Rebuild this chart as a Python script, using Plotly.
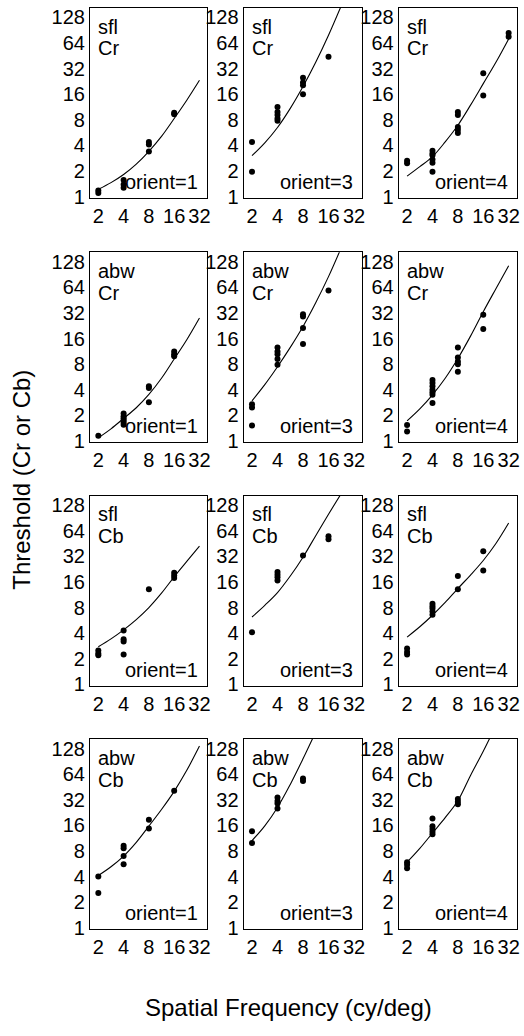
import plotly.graph_objects as go
import math

# ---------------- data ----------------
freq_ticks = [2, 4, 8, 16, 32]
thr_ticks = [1, 2, 4, 8, 16, 32, 64, 128]
curve_freq = [2, 2.83, 4, 5.66, 8, 11.3, 16, 22.6, 32]

# row 1: sfl Cr
sfl_Cr_1_f = [2, 2, 4, 4, 4, 8, 8, 8, 16, 16]
sfl_Cr_1_t = [1.1, 1.18, 1.27, 1.39, 1.57, 4.4, 4.1, 3.4, 9.7, 9.3]
sfl_Cr_1_curve = [1.22, 1.46, 1.82, 2.41, 3.41, 5.1, 8.28, 13.6, 23.3]

sfl_Cr_3_f = [2, 2, 4, 4, 4, 4, 4, 8, 8, 8, 8, 16]
sfl_Cr_3_t = [4.4, 1.96, 11.3, 9.9, 9.1, 8.3, 7.8, 25, 22, 20.4, 16, 44]
sfl_Cr_3_curve_f = [2, 2.83, 4, 5.66, 8, 11.3, 16, 22.6]
sfl_Cr_3_curve = [3.03, 4.29, 6.5, 10.9, 19.7, 38, 79, 175]

sfl_Cr_4_f = [2, 2, 4, 4, 4, 4, 4, 4, 8, 8, 8, 8, 8, 16, 16, 32, 32]
sfl_Cr_4_t = [2.64, 2.46, 3.46, 3.22, 3.07, 2.74, 2.5, 1.96, 9.9, 9.1, 6.6, 6.1, 5.6, 28.3, 15.5, 84, 76]
sfl_Cr_4_curve = [1.74, 2.25, 2.95, 4.4, 6.9, 11.9, 21.3, 38, 71.5]

# row 2: abw Cr
abw_Cr_1_f = [2, 4, 4, 4, 4, 4, 4, 8, 8, 8, 16, 16, 16]
abw_Cr_1_t = [1.15, 2.1, 1.95, 1.85, 1.75, 1.65, 1.55, 4.4, 4.2, 2.85, 11.3, 10.5, 9.9]
abw_Cr_1_curve = [1.09, 1.39, 1.84, 2.46, 3.53, 5.46, 9.19, 15.5, 27.9]

abw_Cr_3_f = [2, 2, 2, 4, 4, 4, 4, 4, 8, 8, 8, 8, 16]
abw_Cr_3_t = [2.7, 2.48, 1.52, 12.6, 11.3, 10.5, 9.2, 7.9, 31, 29, 21.3, 13.8, 59]
abw_Cr_3_curve_f = [2, 2.83, 4, 5.66, 8, 11.3, 16, 22.6]
abw_Cr_3_curve = [2.97, 4.6, 7.46, 12.6, 22.2, 42.2, 85.6, 187]

abw_Cr_4_f = [2, 2, 4, 4, 4, 4, 4, 4, 4, 8, 8, 8, 8, 8, 16, 16]
abw_Cr_4_t = [1.54, 1.29, 5.2, 4.8, 4.4, 4.0, 3.75, 3.5, 2.8, 12.6, 9.6, 8.6, 8.0, 6.5, 30.6, 20.7]
abw_Cr_4_curve = [1.72, 2.38, 3.48, 5.46, 9.32, 17.1, 33.1, 61.8, 115]

# row 3: sfl Cb
sfl_Cb_1_f = [2, 2, 2, 4, 4, 4, 4, 8, 16, 16, 16]
sfl_Cb_1_t = [2.5, 2.3, 2.2, 4.3, 3.4, 3.2, 2.25, 13.1, 20.5, 19.1, 17.8]
sfl_Cb_1_curve = [2.77, 3.43, 4.38, 5.78, 8.0, 11.8, 18.4, 27.9, 42.2]

sfl_Cb_3_f = [2, 4, 4, 4, 4, 8, 16, 16]
sfl_Cb_3_t = [4.1, 20.9, 19.4, 18.2, 16.7, 32.7, 55, 51]
sfl_Cb_3_curve_f = [2, 2.83, 4, 5.66, 8, 11.3, 16, 22.6]
sfl_Cb_3_curve = [6.2, 8.5, 12, 18.8, 31.3, 56, 100, 175]

sfl_Cb_4_f = [2, 2, 2, 4, 4, 4, 4, 4, 8, 8, 16, 16]
sfl_Cb_4_t = [2.64, 2.41, 2.24, 8.9, 8.3, 7.8, 7.2, 6.6, 18.8, 13.1, 36.8, 21.8]
sfl_Cb_4_curve = [3.6, 4.76, 6.5, 9.19, 13.4, 19.3, 28.6, 45.3, 78.8]

# row 4: abw Cb
abw_Cb_1_f = [2, 2, 4, 4, 4, 4, 8, 8, 16]
abw_Cb_1_t = [4.0, 2.57, 9.2, 8.6, 7.0, 5.6, 18.6, 14.7, 40.8]
abw_Cb_1_curve = [4.11, 5.21, 6.96, 10.1, 15.7, 24.6, 40.2, 71, 137]

abw_Cb_3_f = [2, 2, 4, 4, 4, 4, 8, 8]
abw_Cb_3_t = [13.6, 9.9, 34, 31, 29, 25.3, 57, 53]
abw_Cb_3_curve_f = [2, 2.83, 4, 5.66, 8, 11.3]
abw_Cb_3_curve = [10.6, 15.8, 26, 48.5, 97, 201]

abw_Cb_4_f = [2, 2, 2, 4, 4, 4, 4, 4, 8, 8, 8]
abw_Cb_4_t = [5.9, 5.5, 5.0, 19.3, 15.6, 14.5, 13.5, 12.6, 32.6, 30.3, 28.4]
abw_Cb_4_curve_f = [2, 2.83, 4, 5.66, 8, 11.3, 16, 22.6]
abw_Cb_4_curve = [5.9, 8.57, 13, 19.7, 31.1, 61.8, 119, 239]

subjects = ["sfl", "abw", "sfl", "abw"]
channels = ["Cr", "Cr", "Cb", "Cb"]
orients = ["orient=1", "orient=3", "orient=4"]

panels = [
    [(sfl_Cr_1_f, sfl_Cr_1_t, curve_freq, sfl_Cr_1_curve),
     (sfl_Cr_3_f, sfl_Cr_3_t, sfl_Cr_3_curve_f, sfl_Cr_3_curve),
     (sfl_Cr_4_f, sfl_Cr_4_t, curve_freq, sfl_Cr_4_curve)],
    [(abw_Cr_1_f, abw_Cr_1_t, curve_freq, abw_Cr_1_curve),
     (abw_Cr_3_f, abw_Cr_3_t, abw_Cr_3_curve_f, abw_Cr_3_curve),
     (abw_Cr_4_f, abw_Cr_4_t, curve_freq, abw_Cr_4_curve)],
    [(sfl_Cb_1_f, sfl_Cb_1_t, curve_freq, sfl_Cb_1_curve),
     (sfl_Cb_3_f, sfl_Cb_3_t, sfl_Cb_3_curve_f, sfl_Cb_3_curve),
     (sfl_Cb_4_f, sfl_Cb_4_t, curve_freq, sfl_Cb_4_curve)],
    [(abw_Cb_1_f, abw_Cb_1_t, curve_freq, abw_Cb_1_curve),
     (abw_Cb_3_f, abw_Cb_3_t, abw_Cb_3_curve_f, abw_Cb_3_curve),
     (abw_Cb_4_f, abw_Cb_4_t, abw_Cb_4_curve_f, abw_Cb_4_curve)],
]

# ---------------- layout geometry ----------------
W, H = 524, 1036
col_px = [(90.5, 208.5), (245, 364), (401, 519.5)]
row_px = [(7, 199), (254, 446), (500, 692), (746, 938)]
FONT = "Liberation Sans, Arial, sans-serif"

xr = [0.67 * math.log10(2), 5.31 * math.log10(2)]
yr = [-0.05 * math.log10(2), 7.37 * math.log10(2)]

fig = go.Figure()
layout = dict(
    width=W, height=H,
    margin=dict(l=0, r=0, t=0, b=0),
    paper_bgcolor="white", plot_bgcolor="white",
    showlegend=False,
    font=dict(family=FONT, size=20, color="black"),
)
annotations = []

idx = 0
for r in range(4):
    for c in range(3):
        idx += 1
        sfx = "" if idx == 1 else str(idx)
        xa, ya = "x" + sfx, "y" + sfx
        pf, pt, cf, cv = panels[r][c]
        fig.add_trace(go.Scatter(x=cf, y=cv, mode="lines", xaxis=xa, yaxis=ya,
                                 line=dict(color="black", width=1.1, shape="spline"),
                                 hoverinfo="skip"))
        fig.add_trace(go.Scatter(x=pf, y=pt, mode="markers", xaxis=xa, yaxis=ya,
                                 marker=dict(color="black", size=6), cliponaxis=True))
        x0, x1 = col_px[c]
        t0, t1 = row_px[r]
        layout["xaxis" + sfx] = dict(
            type="log", range=xr, domain=[x0 / W, x1 / W], anchor=ya,
            tickvals=freq_ticks, ticktext=[str(v) for v in freq_ticks],
            showline=True, linecolor="black", linewidth=1, mirror=True,
            showgrid=False, zeroline=False, ticks="", tickfont=dict(size=20),
        )
        layout["yaxis" + sfx] = dict(
            type="log", range=yr, domain=[1 - t1 / H, 1 - t0 / H], anchor=xa,
            tickvals=thr_ticks, ticktext=[str(v) for v in thr_ticks],
            showline=True, linecolor="black", linewidth=1, mirror=True,
            showgrid=False, zeroline=False, ticks="", tickfont=dict(size=20),
        )
        hgt = t1 - t0
        annotations.append(dict(text=subjects[r], xref=xa + " domain", yref=ya + " domain",
                                x=0.055, y=1 - 19 / hgt, xanchor="left", yanchor="middle",
                                showarrow=False, font=dict(size=20)))
        annotations.append(dict(text=channels[r], xref=xa + " domain", yref=ya + " domain",
                                x=0.055, y=1 - 41 / hgt, xanchor="left", yanchor="middle",
                                showarrow=False, font=dict(size=20)))
        annotations.append(dict(text=orients[c], xref=xa + " domain", yref=ya + " domain",
                                x=1 - 7 / (x1 - x0), y=16 / hgt, xanchor="right", yanchor="middle",
                                showarrow=False, font=dict(size=20)))

annotations.append(dict(text="Threshold (Cr or Cb)", xref="paper", yref="paper",
                        x=22 / W, y=1 - 484 / H, xanchor="center", yanchor="middle",
                        textangle=-90, showarrow=False, font=dict(size=24)))
annotations.append(dict(text="Spatial Frequency (cy/deg)", xref="paper", yref="paper",
                        x=290 / W, y=1 - 1017 / H, xanchor="center", yanchor="middle",
                        showarrow=False, font=dict(size=24)))
layout["annotations"] = annotations
fig.update_layout(**layout)
fig.write_html("out.html",
               config={"displayModeBar": False},
               post_script="document.body.style.margin='0';document.body.style.overflow='hidden';")
